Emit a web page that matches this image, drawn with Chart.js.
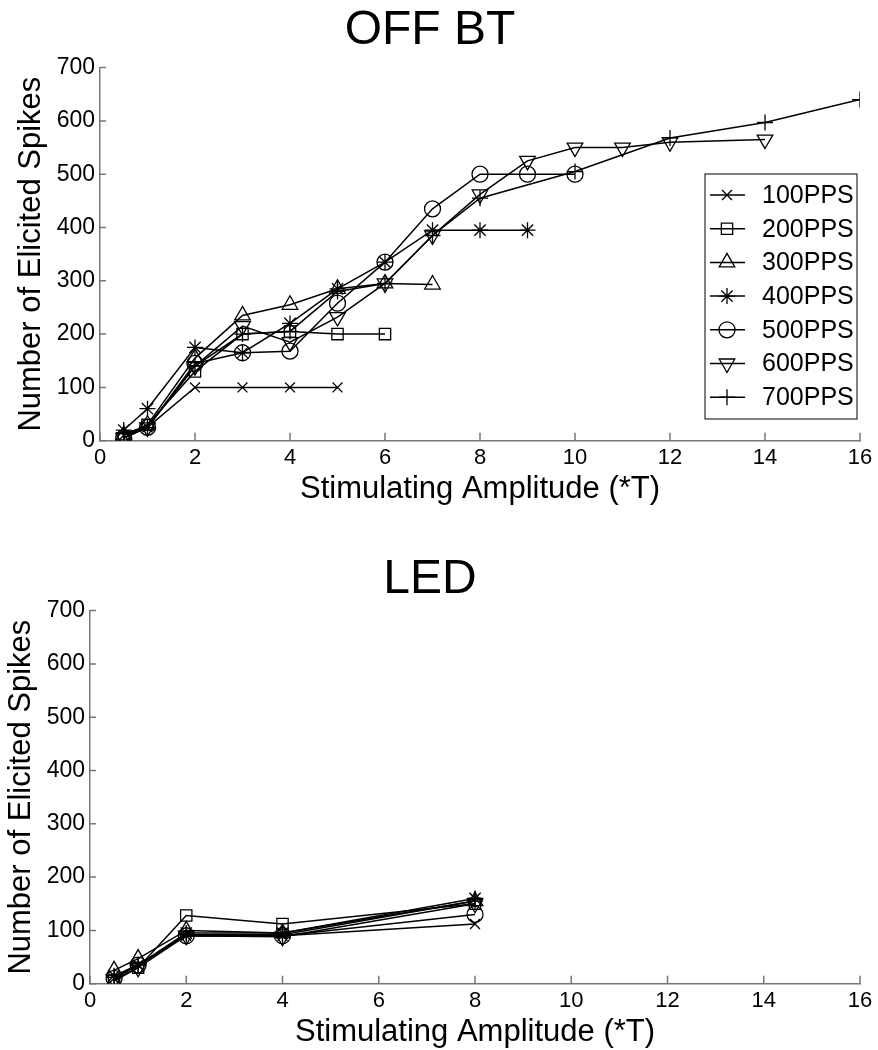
<!DOCTYPE html>
<html>
<head>
<meta charset="utf-8">
<script src="https://cdn.jsdelivr.net/npm/chart.js@4.4.0/dist/chart.umd.min.js"></script>
<style>
	body { margin: 0; background: #fff; }
	#wrapTop { position: absolute; left: 0; top: 0; width: 878px; height: 507px; }
	#wrapLed { position: absolute; left: 0; top: 503px; width: 878px; height: 547px; }
</style>
</head>
<body>
<div id="wrapTop"><canvas id="chartOff"></canvas></div>
<div id="wrapLed"><canvas id="chartLed"></canvas></div>
<script>
// legend names and marker styles
var seriesNames = ["100PPS", "200PPS", "300PPS", "400PPS", "500PPS", "600PPS", "700PPS"];

// OFF BT : amplitude (*T) and elicited spikes
var offAmp100 = [0.5, 1, 2, 3, 4, 5];
var offSpk100 = [10, 25, 100, 100, 100, 100];
var offAmp200 = [0.5, 1, 2, 3, 4, 5, 6];
var offSpk200 = [5, 30, 130, 200, 205, 200, 200];
var offAmp300 = [0.5, 1, 2, 3, 4, 5, 6, 7];
var offSpk300 = [10, 30, 155, 235, 255, 285, 295, 293];
var offAmp400 = [0.5, 1, 2, 3, 4, 5, 6, 7, 8, 9];
var offSpk400 = [20, 60, 175, 165, 220, 285, 335, 395, 395, 395];
var offAmp500 = [0.5, 1, 2, 3, 4, 5, 6, 7, 8, 9, 10];
var offSpk500 = [5, 25, 145, 165, 168, 258, 335, 435, 500, 500, 500];
var offAmp600 = [0.5, 1, 2, 3, 4, 5, 6, 7, 8, 9, 10, 11, 12, 14];
var offSpk600 = [5, 25, 140, 215, 185, 232, 295, 385, 462, 525, 550, 550, 560, 565];
var offAmp700 = [0.5, 1, 2, 3, 4, 5, 6, 7, 8, 10, 12, 14, 16];
var offSpk700 = [15, 25, 140, 200, 205, 280, 295, 385, 455, 505, 568, 597, 640];

// LED
var ledAmp = [0.5, 1, 2, 4, 8];
var ledSpk100 = [10, 35, 90, 90, 112];
var ledSpk200 = [5, 30, 128, 112, 150];
var ledSpk300 = [25, 47, 100, 95, 155];
var ledSpk400 = [15, 35, 95, 95, 160];
var ledSpk500 = [10, 35, 90, 90, 130];
var ledSpk600 = [8, 30, 90, 88, 150];
var ledSpk700 = [12, 35, 92, 92, 155];

// axis ticks
var xTickStep = 2, xMax = 16;
var yTickStep = 100, yMax = 700;

var markers = [
	{ style: "crossRot", radius: 7, rotation: 0 },
	{ style: "rect", radius: 8, rotation: 0 },
	{ style: "triangle", radius: 9, rotation: 0 },
	{ style: "star", radius: 8, rotation: 0 },
	{ style: "circle", radius: 8, rotation: 0 },
	{ style: "triangle", radius: 9, rotation: 180 },
	{ style: "cross", radius: 8, rotation: 0 }
];

function toPoints(xs, ys){
	var pts = [];
	for (var i = 0; i < xs.length; i++) {
		pts.push({ x: xs[i], y: ys[i] });
	}
	return pts;
}

function makeDatasets(list){
	var sets = [];
	for (var i = 0; i < list.length; i++) {
		sets.push({
			label: seriesNames[i],
			data: list[i],
			borderColor: "#000",
			backgroundColor: "rgba(0,0,0,0)",
			borderWidth: 1.5,
			pointStyle: markers[i].style,
			pointRadius: markers[i].radius,
			pointRotation: markers[i].rotation,
			pointBorderWidth: 1.3,
			pointBorderColor: "#000",
			pointBackgroundColor: "rgba(0,0,0,0)",
			tension: 0
		});
	}
	return sets;
}

// MATLAB style ticks pointing into the plot
var inwardTicks = {
	id: "inwardTicks",
	afterDraw: function(chart){
		var ctx = chart.ctx;
		var xs = chart.scales.x, ys = chart.scales.y;
		var area = chart.chartArea;
		ctx.save();
		ctx.strokeStyle = "#777";
		ctx.lineWidth = 1.5;
		ctx.beginPath();
		for (var i = 0; i < xs.ticks.length; i++) {
			var px = xs.getPixelForValue(xs.ticks[i].value);
			ctx.moveTo(px, area.bottom);
			ctx.lineTo(px, area.bottom - 8);
		}
		for (var j = 0; j < ys.ticks.length; j++) {
			var py = ys.getPixelForValue(ys.ticks[j].value);
			ctx.moveTo(area.left, py);
			ctx.lineTo(area.left + 6, py);
		}
		ctx.stroke();
		ctx.restore();
	}
};

// boxed legend inside the plot, line with marker
var boxLegend = {
	id: "boxLegend",
	afterDraw: function(chart, args, opts){
		if (!opts || !opts.show) return;
		var ctx = chart.ctx;
		var x0 = opts.left, y0 = opts.top, w = opts.width, h = opts.height;
		ctx.save();
		ctx.fillStyle = "#fff";
		ctx.fillRect(x0, y0, w, h);
		ctx.strokeStyle = "#000";
		ctx.lineWidth = 1;
		ctx.strokeRect(x0, y0, w, h);
		ctx.font = "25px 'Liberation Sans', Arial, sans-serif";
		ctx.textBaseline = "middle";
		ctx.textAlign = "left";
		var sets = chart.data.datasets;
		for (var i = 0; i < sets.length; i++) {
			var cy = y0 + opts.first + i * opts.step;
			ctx.strokeStyle = "#000";
			ctx.lineWidth = 1.5;
			ctx.beginPath();
			ctx.moveTo(x0 + 5, cy);
			ctx.lineTo(x0 + 40, cy);
			ctx.stroke();
			ctx.fillStyle = "rgba(0,0,0,0)";
			ctx.lineWidth = 1.3;
			Chart.helpers.drawPoint(ctx, {
				pointStyle: sets[i].pointStyle,
				radius: sets[i].pointRadius,
				rotation: sets[i].pointRotation,
				borderWidth: 1.3
			}, x0 + 22, cy);
			ctx.fillStyle = "#000";
			ctx.fillText(sets[i].label, x0 + 57, cy + 1);
		}
		ctx.restore();
	}
};

function makeConfig(title, datasets, titlePad, yWidth, yTitlePad, showLegend){
	return {
		type: "line",
		data: { datasets: datasets },
		plugins: [inwardTicks, boxLegend],
		options: {
			responsive: true,
			maintainAspectRatio: false,
			animation: false,
			layout: { padding: { left: 0, right: 18, top: 0, bottom: 0 } },
			plugins: {
				legend: { display: false },
				tooltip: { enabled: false },
				title: {
					display: true,
					text: title,
					color: "#000",
					font: { family: "'Liberation Sans', Arial, sans-serif", size: 48, weight: "normal", lineHeight: 1.2 },
					padding: titlePad
				},
				boxLegend: {
					show: showLegend,
					left: 705, top: 174, width: 152, height: 245,
					first: 21, step: 33.7
				}
			},
			scales: {
				x: {
					type: "linear",
					min: 0,
					max: xMax,
					grid: { display: false, drawTicks: false },
					border: { display: true, color: "#777", width: 1.5 },
					ticks: {
						stepSize: xTickStep,
						color: "#000",
						padding: 4,
						maxRotation: 0,
						font: { family: "'Liberation Sans', Arial, sans-serif", size: 22, lineHeight: 1.2 }
					},
					title: {
						display: true,
						text: "Stimulating Amplitude (*T)",
						color: "#000",
						padding: { top: 0, bottom: 4 },
						font: { family: "'Liberation Sans', Arial, sans-serif", size: 31, lineHeight: 0.9 }
					}
				},
				y: {
					min: 0,
					max: yMax,
					afterFit: function(scale){ scale.width = yWidth; },
					grid: { display: false, drawTicks: false },
					border: { display: true, color: "#777", width: 1.5 },
					ticks: {
						stepSize: yTickStep,
						color: "#000",
						padding: 5,
						font: { family: "'Liberation Sans', Arial, sans-serif", size: 23, lineHeight: 1.2 }
					},
					title: {
						display: true,
						text: "Number of Elicited Spikes",
						color: "#000",
						padding: { top: yTitlePad, bottom: 0 },
						font: { family: "'Liberation Sans', Arial, sans-serif", size: 31, lineHeight: 1.0 }
					}
				}
			}
		}
	};
}

var offSets = makeDatasets([
	toPoints(offAmp100, offSpk100),
	toPoints(offAmp200, offSpk200),
	toPoints(offAmp300, offSpk300),
	toPoints(offAmp400, offSpk400),
	toPoints(offAmp500, offSpk500),
	toPoints(offAmp600, offSpk600),
	toPoints(offAmp700, offSpk700)
]);

var ledSets = makeDatasets([
	toPoints(ledAmp, ledSpk100),
	toPoints(ledAmp, ledSpk200),
	toPoints(ledAmp, ledSpk300),
	toPoints(ledAmp, ledSpk400),
	toPoints(ledAmp, ledSpk500),
	toPoints(ledAmp, ledSpk600),
	toPoints(ledAmp, ledSpk700)
]);

var offChart = new Chart(
	document.getElementById("chartOff"),
	makeConfig("OFF BT", offSets, { top: 2, bottom: 8 }, 100, 16, true)
);
var ledChart = new Chart(
	document.getElementById("chartLed"),
	makeConfig("LED", ledSets, { top: 48, bottom: 2 }, 90, 6, false)
);
</script>
</body>
</html>
